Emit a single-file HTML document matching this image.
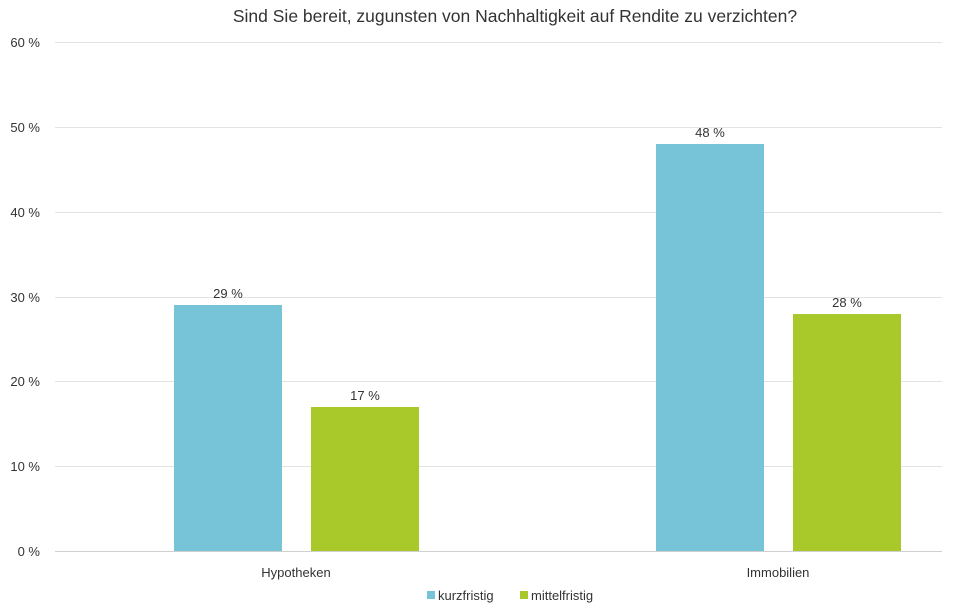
<!DOCTYPE html>
<html><head><meta charset="utf-8"><style>
body{margin:0;background:#fff;}
svg text{font-family:"Liberation Sans",sans-serif;fill:#333;}
</style></head><body>
<svg width="960" height="610" viewBox="0 0 960 610" xmlns="http://www.w3.org/2000/svg">
<text x="515" y="22" font-size="17.5" text-anchor="middle">Sind Sie bereit, zugunsten von Nachhaltigkeit auf Rendite zu verzichten?</text>
<g stroke="#e3e3e3" stroke-width="1">
<line x1="55" x2="942" y1="42.5" y2="42.5"/>
<line x1="55" x2="942" y1="127.5" y2="127.5"/>
<line x1="55" x2="942" y1="212.5" y2="212.5"/>
<line x1="55" x2="942" y1="297.5" y2="297.5"/>
<line x1="55" x2="942" y1="381.5" y2="381.5"/>
<line x1="55" x2="942" y1="466.5" y2="466.5"/>
<line x1="55" x2="942" y1="551.5" y2="551.5" stroke="#d0d0d0"/>
</g>
<g font-size="13" text-anchor="end">
<text x="40" y="47">60 %</text>
<text x="40" y="132">50 %</text>
<text x="40" y="217">40 %</text>
<text x="40" y="302">30 %</text>
<text x="40" y="386">20 %</text>
<text x="40" y="471">10 %</text>
<text x="40" y="556">0 %</text>
</g>
<rect x="174" y="305" width="108" height="246" fill="#77c4d8"/>
<rect x="311" y="407" width="108" height="144" fill="#a8c929"/>
<rect x="656" y="144" width="108" height="407" fill="#77c4d8"/>
<rect x="793" y="314" width="108" height="237" fill="#a8c929"/>
<g font-size="13" text-anchor="middle">
<text x="228" y="298">29 %</text>
<text x="365" y="400">17 %</text>
<text x="710" y="137">48 %</text>
<text x="847" y="307">28 %</text>
<text x="296" y="577">Hypotheken</text>
<text x="778" y="577">Immobilien</text>
</g>
<rect x="427" y="591" width="8" height="8" fill="#77c4d8"/>
<text x="438" y="600" font-size="13">kurzfristig</text>
<rect x="520" y="591" width="8" height="8" fill="#a8c929"/>
<text x="531" y="600" font-size="13">mittelfristig</text>
</svg>
</body></html>
